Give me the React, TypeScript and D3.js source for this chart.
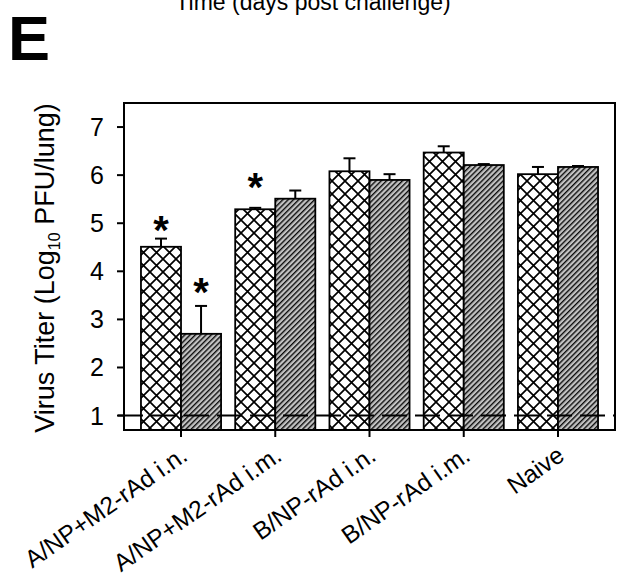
import React, { useRef, useEffect } from 'react';
import * as d3 from 'd3';

const categories = ['A/NP+M2-rAd i.n.', 'A/NP+M2-rAd i.m.', 'B/NP-rAd i.n.', 'B/NP-rAd i.m.', 'Naive'];
const crossValues = [4.51, 5.29, 6.08, 6.47, 6.02];
const crossErrors = [0.17, 0.03, 0.27, 0.13, 0.15];
const hatchValues = [2.7, 5.51, 5.9, 6.21, 6.17];
const hatchErrors = [0.58, 0.17, 0.12, 0.02, 0.02];
// asterisk centres, in titer units
const crossStars = [5.04, 5.95, null, null, null];
const hatchStars = [3.75, null, null, null, null];
const yTicks = [1, 2, 3, 4, 5, 6, 7];
const limitOfDetection = 1;

const W = 617;
const H = 581;

const App: React.FC = () => {
  const ref = useRef<SVGSVGElement | null>(null);

  useEffect(() => {
    if (!ref.current) return;
    const svg = d3.select(ref.current);
    svg.selectAll('*').remove();

    const margin = { top: 103, right: 2, bottom: 151, left: 124 };
    const innerW = W - margin.left - margin.right;
    const innerH = H - margin.top - margin.bottom;
    const font = 'Arial, "Liberation Sans", Helvetica, sans-serif';

    const defs = svg.append('defs');
    const cross = defs
      .append('pattern')
      .attr('id', 'cross')
      .attr('patternUnits', 'userSpaceOnUse')
      .attr('width', 13)
      .attr('height', 13);
    cross.append('rect').attr('width', 13).attr('height', 13).attr('fill', '#fff');
    cross
      .append('path')
      .attr('d', 'M0,0L13,13M0,13L13,0')
      .attr('stroke', '#000')
      .attr('stroke-width', 1.7);

    const hw = 3.75;
    const hatch = defs
      .append('pattern')
      .attr('id', 'hatch')
      .attr('patternUnits', 'userSpaceOnUse')
      .attr('width', hw)
      .attr('height', hw)
      .attr('patternTransform', 'rotate(45)');
    hatch.append('rect').attr('width', hw).attr('height', hw).attr('fill', '#c2c2c2');
    hatch
      .append('line')
      .attr('x1', 0.7)
      .attr('x2', 0.7)
      .attr('y1', 0)
      .attr('y2', hw)
      .attr('stroke', '#000')
      .attr('stroke-width', 1.3);

    const x = d3
      .scaleBand<string>()
      .domain(categories)
      .range([0, innerW])
      .paddingInner(0.15)
      .paddingOuter(0.18);
    const sub = d3
      .scaleBand<string>()
      .domain(['cross', 'hatch'])
      .range([0, x.bandwidth()]);
    const y = d3.scaleLinear().domain([0.7, 7.5]).range([innerH, 0]);

    const g = svg.append('g').attr('transform', `translate(${margin.left},${margin.top})`);

    const series = [
      { key: 'cross', values: crossValues, errors: crossErrors, stars: crossStars },
      { key: 'hatch', values: hatchValues, errors: hatchErrors, stars: hatchStars }
    ];

    series.forEach(s => {
      const bars = g
        .append('g')
        .selectAll('g')
        .data(categories.map((c, i) => ({ c, v: s.values[i], e: s.errors[i], star: s.stars[i] })))
        .join('g');
      const cx = (d: { c: string }) => (x(d.c) as number) + (sub(s.key) as number) + sub.bandwidth() / 2;

      bars
        .append('line')
        .attr('x1', cx)
        .attr('x2', cx)
        .attr('y1', d => y(d.v))
        .attr('y2', d => y(d.v + d.e))
        .attr('stroke', '#000')
        .attr('stroke-width', 2);
      bars
        .append('line')
        .attr('x1', d => cx(d) - 6)
        .attr('x2', d => cx(d) + 6)
        .attr('y1', d => y(d.v + d.e))
        .attr('y2', d => y(d.v + d.e))
        .attr('stroke', '#000')
        .attr('stroke-width', 2);
      bars
        .append('rect')
        .attr('x', d => (x(d.c) as number) + (sub(s.key) as number))
        .attr('width', sub.bandwidth())
        .attr('y', d => y(d.v))
        .attr('height', d => innerH - y(d.v))
        .attr('fill', `url(#${s.key})`)
        .attr('stroke', '#000')
        .attr('stroke-width', 1.8);
      bars
        .filter(d => d.star != null)
        .append('text')
        .attr('x', cx)
        .attr('y', d => y(d.star as number) + 23)
        .attr('text-anchor', 'middle')
        .attr('font-family', font)
        .attr('font-weight', 'bold')
        .attr('font-size', 40)
        .text('*');
    });

    // limit of detection
    g.append('line')
      .attr('x1', -6)
      .attr('x2', innerW)
      .attr('y1', y(limitOfDetection))
      .attr('y2', y(limitOfDetection))
      .attr('stroke', '#000')
      .attr('stroke-width', 2)
      .attr('stroke-dasharray', '25,8');

    // frame
    g.append('rect')
      .attr('width', innerW)
      .attr('height', innerH)
      .attr('fill', 'none')
      .attr('stroke', '#000')
      .attr('stroke-width', 2);

    // y axis
    const yAxis = g.append('g');
    yAxis
      .selectAll('line')
      .data(yTicks)
      .join('line')
      .attr('x1', -7)
      .attr('x2', 0)
      .attr('y1', d => y(d))
      .attr('y2', d => y(d))
      .attr('stroke', '#000')
      .attr('stroke-width', 2);
    yAxis
      .selectAll('text')
      .data(yTicks)
      .join('text')
      .attr('x', -20)
      .attr('y', d => y(d))
      .attr('dy', '0.36em')
      .attr('text-anchor', 'end')
      .attr('font-family', font)
      .attr('font-size', 25)
      .text(d => d);

    // x axis ticks at group centres
    const xAxis = g.append('g').attr('transform', `translate(0,${innerH})`);
    xAxis
      .selectAll('line')
      .data(categories)
      .join('line')
      .attr('x1', d => (x(d) as number) + x.bandwidth() / 2)
      .attr('x2', d => (x(d) as number) + x.bandwidth() / 2)
      .attr('y1', 0)
      .attr('y2', 7)
      .attr('stroke', '#000')
      .attr('stroke-width', 2);
    xAxis
      .selectAll('text')
      .data(categories)
      .join('text')
      .attr('text-anchor', 'end')
      .attr('font-family', font)
      .attr('font-size', 24.5)
      .attr(
        'transform',
        d => `translate(${(x(d) as number) + x.bandwidth() / 2 + 8},${29}) rotate(-35)`
      )
      .text(d => d);

    // y title
    const yt = svg
      .append('text')
      .attr('transform', `translate(54,268) rotate(-90)`)
      .attr('text-anchor', 'middle')
      .attr('font-family', font)
      .attr('font-size', 27);
    yt.append('tspan').text('Virus Titer (Log');
    yt.append('tspan').attr('font-size', 16).attr('dy', 6).text('10');
    yt.append('tspan').attr('dy', -6).text(' PFU/lung)');

    // panel letter
    svg
      .append('text')
      .attr('x', 8)
      .attr('y', 60)
      .attr('font-family', font)
      .attr('font-weight', 'bold')
      .attr('font-size', 63)
      .text('E');

    // cut-off title from the panel above
    svg
      .append('text')
      .attr('x', 313)
      .attr('y', 10)
      .attr('text-anchor', 'middle')
      .attr('font-family', font)
      .attr('font-size', 23)
      .text('Time (days post challenge)');
  }, []);

  return (
    <svg
      ref={ref}
      width={W}
      height={H}
      viewBox={`0 0 ${W} ${H}`}
      style={{ position: 'absolute', left: 0, top: 0, background: '#fff' }}
    />
  );
};

export default App;
